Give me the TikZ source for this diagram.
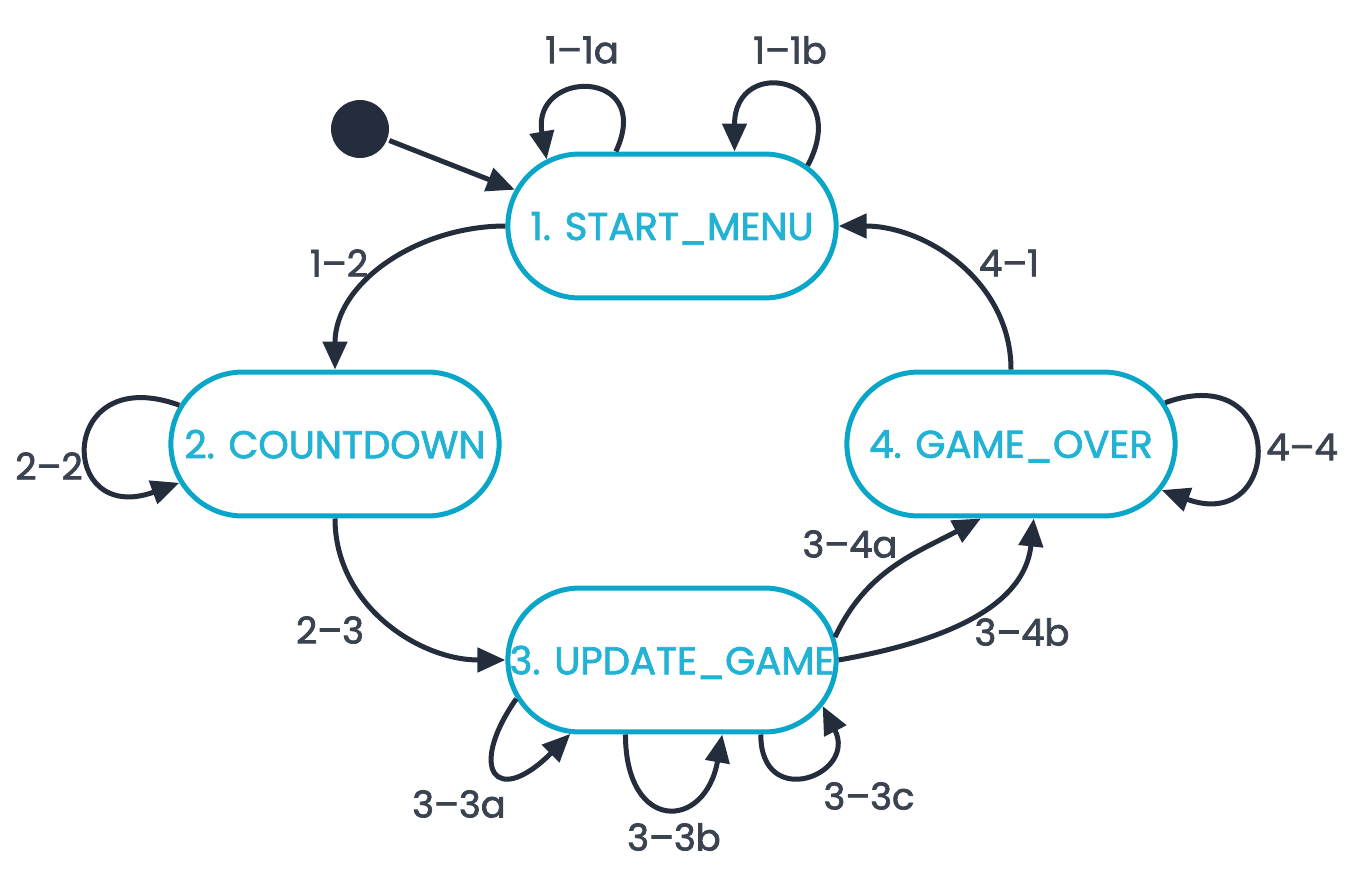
\documentclass[tikz,border=0pt]{standalone}
\usepackage{fontspec}
\setmainfont{Poppins}[BoldFont=Poppins,BoldFeatures={FakeBold=2}]
\usetikzlibrary{arrows.meta,shapes.misc}
\definecolor{statecyan}{HTML}{0AA6C9}
\definecolor{statetext}{HTML}{22B2D3}
\definecolor{arrowink}{HTML}{242D3C}
\definecolor{labelink}{HTML}{3B4351}

\begin{document}
\begin{tikzpicture}[->,>={Triangle[length=0.56cm,width=0.48cm]},line width=0.1cm,draw=arrowink,x=0.02cm,y=-0.02cm]
		\tikzstyle{state}=[rounded rectangle,draw=statecyan,fill=white,text=statetext,minimum width=6.8cm,minimum height=2.88cm,text depth=0pt,font=\fontsize{22}{27}\selectfont\bfseries]
		\tikzstyle{init dot}=[circle,fill=arrowink,draw=none,minimum size=1.16cm,inner sep=0pt]
		\tikzstyle{trans label}=[text=labelink,font=\fontsize{21}{25}\selectfont\bfseries,inner sep=0pt]
		
		% Fix the page size
		\fill[white,-] (0,0) rectangle (1365,879);
		\useasboundingbox (0,0) rectangle (1365,879);
		
		% Draw the states
		\node[state] (S1) at (672,226) {1. START\_MENU};
		\node[state] (S2) at (335,444) {2. COUNTDOWN};
		\node[state] (S3) at (672,660) {3. UPDATE\_GAME};
		\node[state] (S4) at (1011,444) {4. GAME\_OVER};
		\node[init dot] (I) at (360,129) {};
		
		% Transitions between states
		\path (I) edge (S1.167);
		\path (S1.west) edge[out=180,in=90] (S2.north);
		\path (S4.north) edge[out=90,in=0] (S1.east);
		\path (S2.south) edge[out=-90,in=180] (S3.west);
		\path (S3.8) edge[out=65,in=208] (S4.248);
		\path (S3.east) edge[out=10,in=264] (S4.287);
		
		% Self loops
		\path (S1.127) edge[out=65,in=100,looseness=3.4] (S1.152);
		\path (S1.24) edge[out=62,in=90,looseness=3.4] (S1.50);
		\path (S2.166) edge[out=160,in=200,looseness=4.3] (S2.194);
		\path (S4.15) edge[out=20,in=-20,looseness=3.8] (S4.343);
		\path (S3.194) edge[out=235,in=225,out looseness=3.4,in looseness=4.2] (S3.216);
		\path (S3.238) edge[out=270,in=260,looseness=2.6] (S3.304);
		\path (S3.320) edge[out=270,in=297,looseness=2.9] (S3.343);
		
		% Annotate the transitions
		\foreach \name/\txt/\x/\y in {11a/1--1a/582/50,11b/1--1b/790/50,12/1--2/339/263,41/4--1/1009/263,22/2--2/49/466,44/4--4/1302/447,23/2--3/330/630,34a/3--4a/850/544,34b/3--4b/1022/632,33a/3--3a/459/804,33b/3--3b/674/837,33c/3--3c/869/796}
		\node[trans label] (L-\name) at (\x,\y) {\txt};
	\end{tikzpicture}
\end{document}
